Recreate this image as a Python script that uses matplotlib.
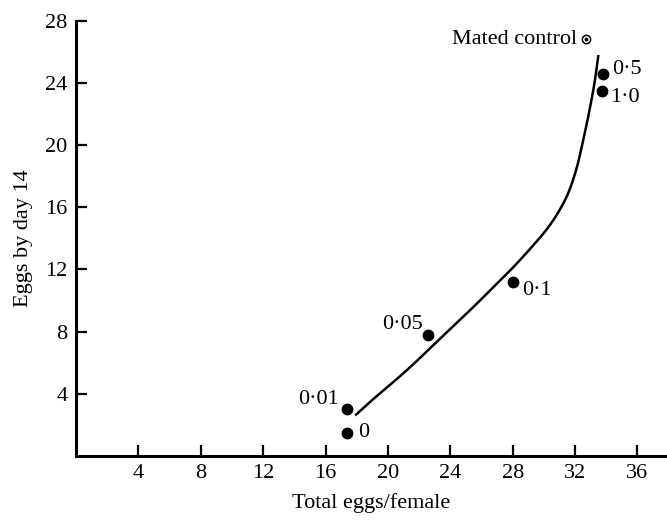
import numpy as np
import matplotlib.pyplot as plt

plt.rcParams['font.family'] = ['Liberation Serif', 'DejaVu Serif']

# dose groups: total eggs per female vs eggs laid by day 14
dose_labels = ['0', '0·01', '0·05', '0·1', '0·5', '1·0']
total_eggs = [17.4, 17.4, 22.6, 28.0, 33.8, 33.7]
eggs_day14 = [1.5, 3.0, 7.8, 11.2, 24.6, 23.5]
label_offsets = [(8, 0), (-6, 7), (-4, 7.5), (7, -6), (6.5, 3), (6, -4.5)]

mated_x, mated_y = 32.7, 26.8

# fitted curve traced through the points
curve_x = [17.9, 19.0, 21.2, 23.3, 25.5, 27.2, 28.0, 29.1, 30.2, 31.0,
           31.6, 32.1, 32.5, 32.9, 33.25, 33.5]
curve_y = [2.6, 3.6, 5.5, 7.5, 9.6, 11.3, 12.1, 13.3, 14.6, 15.8,
           17.0, 18.5, 20.2, 22.1, 24.0, 25.8]


def smooth_line(xs, ys, n=12):
    # Catmull-Rom so the traced line is drawn without corners
    p = np.column_stack([xs, ys])
    p = np.vstack([2 * p[0] - p[1], p, 2 * p[-1] - p[-2]])
    out = []
    t = np.linspace(0, 1, n, endpoint=False)[:, None]
    for i in range(1, len(p) - 2):
        p0, p1, p2, p3 = p[i - 1], p[i], p[i + 1], p[i + 2]
        seg = 0.5 * ((2 * p1) + (-p0 + p2) * t
                     + (2 * p0 - 5 * p1 + 4 * p2 - p3) * t ** 2
                     + (-p0 + 3 * p1 - 3 * p2 + p3) * t ** 3)
        out.append(seg)
    out.append(p[-2][None, :])
    out = np.vstack(out)
    return out[:, 0], out[:, 1]


fig = plt.figure(figsize=(6.67, 5.21), dpi=100)
ax = fig.add_axes([0.114, 0.125, 0.886, 0.835])

sx, sy = smooth_line(curve_x, curve_y)
ax.plot(sx, sy, color='black', lw=1.8, solid_capstyle='butt')
ax.plot(total_eggs, eggs_day14, 'o', color='black', ms=7.5, mec='black')

for x, y, lab, off in zip(total_eggs, eggs_day14, dose_labels, label_offsets):
    ha = 'left' if off[0] > 0 else 'right'
    ax.annotate(lab, (x, y), xytext=off, textcoords='offset points',
                ha=ha, va='center', fontsize=16)

# mated control: open circle with centre dot
ax.plot(mated_x, mated_y, 'o', ms=6, mfc='white', mec='black', mew=1.1)
ax.plot(mated_x, mated_y, 'o', ms=1.8, color='black')
ax.annotate('Mated control', (mated_x, mated_y), xytext=(-6, 0),
            textcoords='offset points', ha='right', va='center', fontsize=16)

ax.set_xlim(0, 37.9)
ax.set_ylim(0, 28)
ax.set_xticks([4, 8, 12, 16, 20, 24, 28, 32, 36])
ax.set_yticks([4, 8, 12, 16, 20, 24, 28])
ax.tick_params(direction='in', length=8, width=1.6, labelsize=16, pad=6)

for side in ['top', 'right']:
    ax.spines[side].set_visible(False)
for side in ['left', 'bottom']:
    ax.spines[side].set_linewidth(2.2)

ax.set_xlabel('Total eggs/female', fontsize=16, labelpad=7)
ax.set_ylabel('Eggs by day 14', fontsize=16, labelpad=9)

fig.savefig('out.png', dpi=100)
